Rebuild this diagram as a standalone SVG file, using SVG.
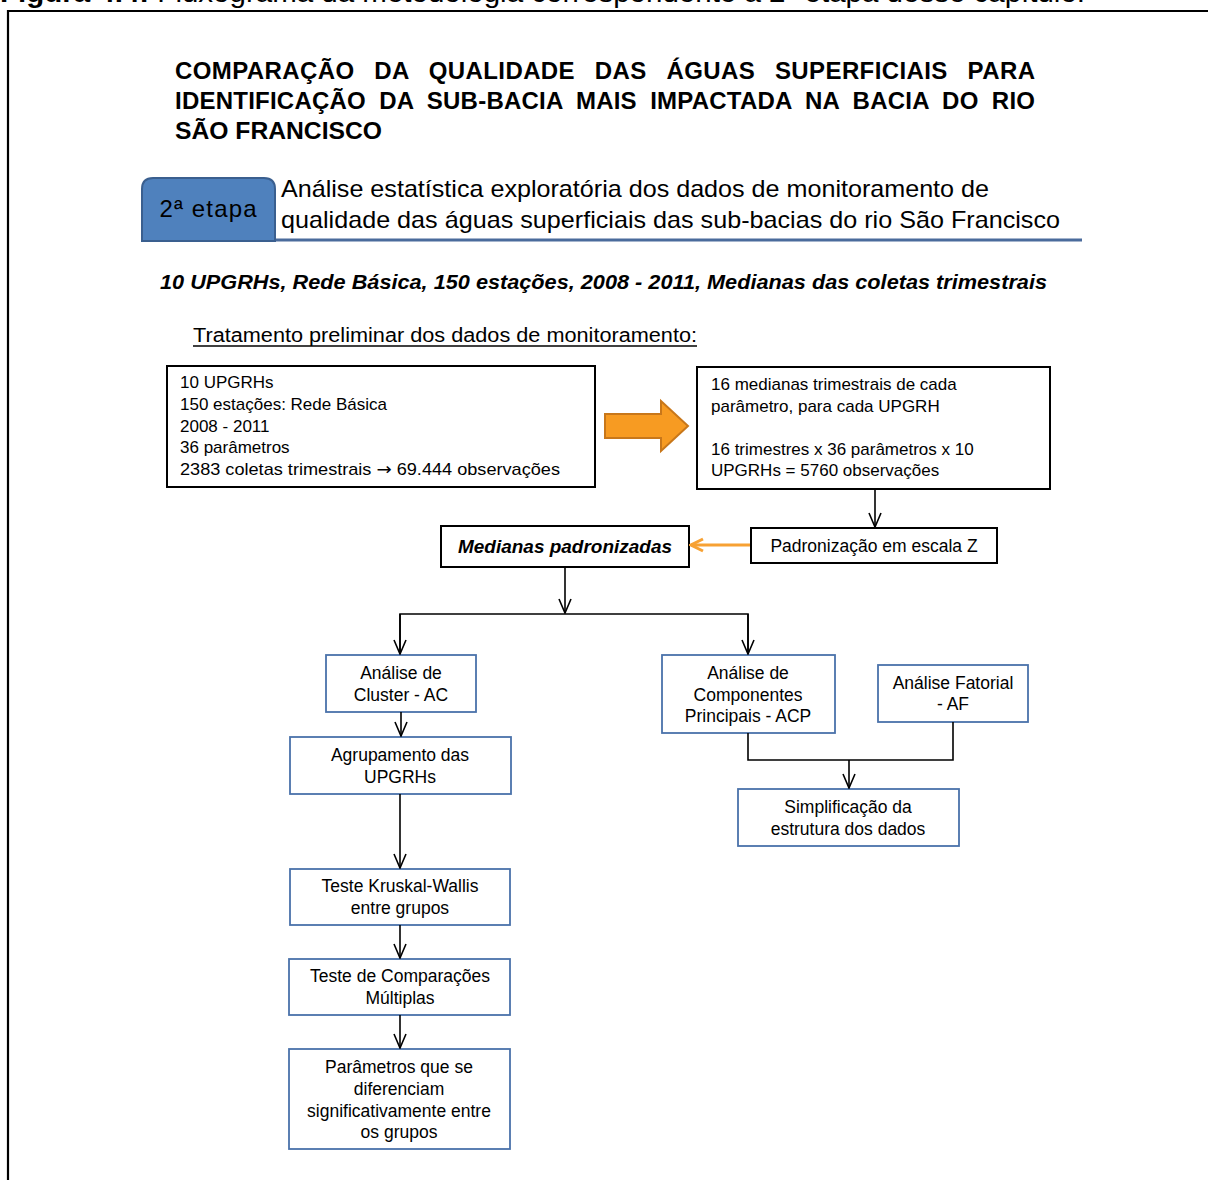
<svg xmlns="http://www.w3.org/2000/svg" width="1208" height="1180" viewBox="0 0 1208 1180">
<style>
text{font-family:"Liberation Sans",Arial,sans-serif;fill:#000}
.cap{font-size:28px}
.title{font-size:24px;font-weight:bold}
.hdr{font-size:24px}
.bx{fill:#fff;stroke:#000;stroke-width:2}
.bb{fill:#fff;stroke:#4a72aa;stroke-width:1.8}
.t17{font-size:17px}
.t18{font-size:17.5px;text-anchor:middle}
.ln{fill:none;stroke:#000;stroke-width:1.6}
</style>
<defs>
<marker id="ah" viewBox="0 0 16 14" refX="15" refY="7" markerWidth="16" markerHeight="14" markerUnits="userSpaceOnUse" orient="auto">
<polyline points="1,1 15,7 1,13" fill="none" stroke="#000" stroke-width="1.6"/>
</marker>
<marker id="aho" viewBox="0 0 16 16" refX="14" refY="8" markerWidth="16" markerHeight="16" markerUnits="userSpaceOnUse" orient="auto">
<polyline points="2,2 14,8 2,14" fill="none" stroke="#f7a133" stroke-width="3"/>
</marker>
</defs>
<rect width="1208" height="1180" fill="#fff"/>
<text class="cap" x="0" y="2" textLength="1085" lengthAdjust="spacingAndGlyphs"><tspan font-weight="bold">Figura 4.4:</tspan> Fluxograma da metodologia correspondente à 2ª etapa desse capítulo.</text>
<path d="M8,1182 V11 H1210" fill="none" stroke="#000" stroke-width="2.2"/>

<g id="title">
<text class="title" x="175" y="79" word-spacing="12.7" textLength="860" lengthAdjust="spacing">COMPARAÇÃO DA QUALIDADE DAS ÁGUAS SUPERFICIAIS PARA</text>
<text class="title" x="175" y="109" word-spacing="6.4" textLength="860" lengthAdjust="spacing">IDENTIFICAÇÃO DA SUB-BACIA MAIS IMPACTADA NA BACIA DO RIO</text>
<text class="title" x="175" y="139" textLength="207" lengthAdjust="spacingAndGlyphs">SÃO FRANCISCO</text>
</g>

<g id="header">
<line x1="142" y1="240" x2="1082" y2="240" stroke="#4a6b9c" stroke-width="3"/>
<path d="M142,241 V189 Q142,178 153,178 H264 Q275,178 275,189 V241 Z" fill="#4f81bd" stroke="#3a5f8f" stroke-width="2"/>
<text class="hdr" x="208" y="217" text-anchor="middle" fill="#111" textLength="97">2ª etapa</text>
<text class="hdr" x="281" y="197" textLength="708" lengthAdjust="spacingAndGlyphs">Análise estatística exploratória dos dados de monitoramento de</text>
<text class="hdr" x="281" y="228" textLength="779" lengthAdjust="spacingAndGlyphs">qualidade das águas superficiais das sub-bacias do rio São Francisco</text>
</g>

<g id="subtitle">
<text x="160" y="289" font-size="21" font-weight="bold" font-style="italic" textLength="887" lengthAdjust="spacingAndGlyphs">10 UPGRHs, Rede Básica, 150 estações, 2008 - 2011, Medianas das coletas trimestrais</text>
<text x="193" y="342" font-size="20" textLength="504" lengthAdjust="spacingAndGlyphs">Tratamento preliminar dos dados de monitoramento:</text>
<line x1="193" y1="346" x2="697" y2="346" stroke="#000" stroke-width="1.3"/>
</g>

<g id="n-dados">
<rect class="bx" x="167" y="366" width="428" height="121"/>
<text class="t17" x="180" y="388">10 UPGRHs</text>
<text class="t17" x="180" y="410">150 estações: Rede Básica</text>
<text class="t17" x="180" y="432">2008 - 2011</text>
<text class="t17" x="180" y="453">36 parâmetros</text>
<text class="t17" x="180" y="475" textLength="380" lengthAdjust="spacingAndGlyphs">2383 coletas trimestrais <tspan font-family="'DejaVu Sans',sans-serif">→</tspan> 69.444 observações</text>
</g>

<g id="n-orange-arrow">
<polygon points="605,414 661,414 661,401 688,426 661,451 661,438 605,438" fill="#f79b22" stroke="#c8771a" stroke-width="2"/>
</g>

<g id="n-medianas">
<rect class="bx" x="697" y="367" width="353" height="122"/>
<text class="t17" x="711" y="390">16 medianas trimestrais de cada</text>
<text class="t17" x="711" y="412">parâmetro, para cada UPGRH</text>
<text class="t17" x="711" y="455">16 trimestres x 36 parâmetros x 10</text>
<text class="t17" x="711" y="476">UPGRHs = 5760 observações</text>
</g>

<g id="n-padronizacao">
<rect class="bx" x="751" y="528" width="246" height="35" stroke-width="1.8"/>
<text class="t18" x="874" y="552">Padronização em escala Z</text>
</g>

<g id="n-padronizadas">
<rect class="bx" x="441" y="526" width="248" height="41" stroke-width="4"/>
<text x="565" y="553" font-size="19" font-weight="bold" font-style="italic" text-anchor="middle" textLength="214" lengthAdjust="spacingAndGlyphs">Medianas padronizadas</text>
</g>

<g id="n-cluster">
<rect class="bb" x="326" y="655" width="150" height="57"/>
<text class="t18" x="401" y="679">Análise de</text>
<text class="t18" x="401" y="701">Cluster - AC</text>
</g>
<g id="n-agrupamento">
<rect class="bb" x="290" y="737" width="221" height="57"/>
<text class="t18" x="400" y="761">Agrupamento  das</text>
<text class="t18" x="400" y="783">UPGRHs</text>
</g>
<g id="n-kruskal">
<rect class="bb" x="290" y="869" width="220" height="56"/>
<text class="t18" x="400" y="892">Teste Kruskal-Wallis</text>
<text class="t18" x="400" y="914">entre grupos</text>
</g>
<g id="n-comparacoes">
<rect class="bb" x="289" y="959" width="221" height="56"/>
<text class="t18" x="400" y="982">Teste de Comparações</text>
<text class="t18" x="400" y="1004">Múltiplas</text>
</g>
<g id="n-parametros">
<rect class="bb" x="289" y="1049" width="221" height="100"/>
<text class="t18" x="399" y="1073">Parâmetros que se</text>
<text class="t18" x="399" y="1095">diferenciam</text>
<text class="t18" x="399" y="1117">significativamente entre</text>
<text class="t18" x="399" y="1138">os grupos</text>
</g>
<g id="n-acp">
<rect class="bb" x="662" y="655" width="173" height="78"/>
<text class="t18" x="748" y="679">Análise de</text>
<text class="t18" x="748" y="701">Componentes</text>
<text class="t18" x="748" y="722">Principais - ACP</text>
</g>
<g id="n-af">
<rect class="bb" x="878" y="665" width="150" height="57"/>
<text class="t18" x="953" y="689">Análise Fatorial</text>
<text class="t18" x="953" y="710">- AF</text>
</g>
<g id="n-simplificacao">
<rect class="bb" x="738" y="789" width="221" height="57"/>
<text class="t18" x="848" y="813">Simplificação da</text>
<text class="t18" x="848" y="835">estrutura dos dados</text>
</g>

<g id="connectors">
<line class="ln" x1="875" y1="489" x2="875" y2="527" marker-end="url(#ah)"/>
<line x1="750" y1="545" x2="691" y2="545" stroke="#f7a133" stroke-width="3" marker-end="url(#aho)"/>
<line class="ln" x1="565" y1="567" x2="565" y2="613" marker-end="url(#ah)"/>
<polyline class="ln" points="400,654 400,614 748,614 748,654"/>
<line class="ln" x1="400" y1="614" x2="400" y2="654" marker-end="url(#ah)"/>
<line class="ln" x1="748" y1="614" x2="748" y2="654" marker-end="url(#ah)"/>
<line class="ln" x1="401" y1="712" x2="401" y2="736" marker-end="url(#ah)"/>
<line class="ln" x1="400" y1="794" x2="400" y2="868" marker-end="url(#ah)"/>
<line class="ln" x1="400" y1="925" x2="400" y2="958" marker-end="url(#ah)"/>
<line class="ln" x1="400" y1="1015" x2="400" y2="1048" marker-end="url(#ah)"/>
<polyline class="ln" points="748,733 748,760 953,760 953,722" stroke-width="2"/>
<line class="ln" x1="849" y1="760" x2="849" y2="788" marker-end="url(#ah)"/>
</g>
</svg>
